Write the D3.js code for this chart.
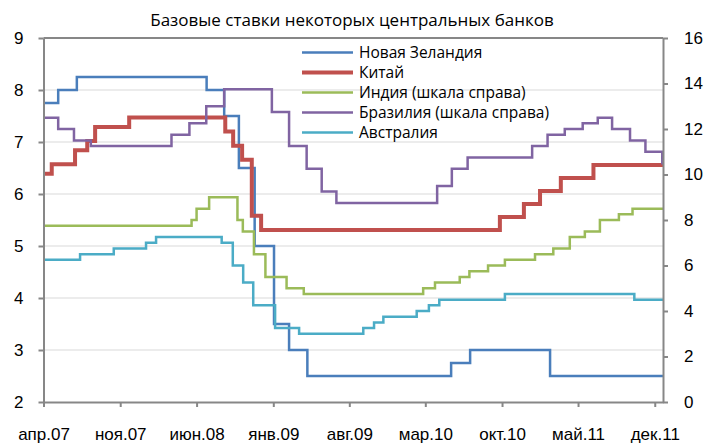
<!DOCTYPE html>
<html>
<head>
<meta charset="utf-8">
<script src="https://cdn.jsdelivr.net/npm/d3@7"></script>
<style>
  body { margin: 0; background: #fff; }
  svg { display: block; font-family: "Open Sans", sans-serif; }
  .axis path, .axis line { stroke: #878787; stroke-width: 2; }
  .axis text { fill: #000; font-size: 17px; }
  .grid line { stroke: #d9d9d9; stroke-width: 1; }
</style>
</head>
<body>
<svg id="chart" width="723" height="443"></svg>
<script>
const title = 'Базовые ставки некоторых центральных банков';

const xTickDates = ['2007-04-01', '2007-11-01', '2008-06-01', '2009-01-01', '2009-08-01',
  '2010-03-01', '2010-10-01', '2011-05-01', '2011-12-01'];
const xTickLabels = ['апр.07', 'ноя.07', 'июн.08', 'янв.09', 'авг.09', 'мар.10', 'окт.10', 'май.11', 'дек.11'];
const leftTicks = [2, 3, 4, 5, 6, 7, 8, 9];
const rightTicks = [0, 2, 4, 6, 8, 10, 12, 14, 16];

const startDate = '2007-04-01';
const endDate = '2011-12-24';

// [дата изменения, ставка]
const newZealand = [
  ['2007-04-01', 7.75], ['2007-05-12', 8.0], ['2007-07-03', 8.25], ['2008-06-29', 8.0],
  ['2008-08-17', 7.5], ['2008-09-27', 6.5], ['2008-11-10', 5.0], ['2009-01-03', 3.5],
  ['2009-02-14', 3.0], ['2009-04-06', 2.5], ['2010-05-12', 2.75], ['2010-07-04', 3.0],
  ['2011-02-12', 2.5]
];
const china = [
  ['2007-04-01', 6.39], ['2007-04-24', 6.57], ['2007-06-28', 6.84], ['2007-08-01', 7.02],
  ['2007-08-23', 7.29], ['2007-11-26', 7.47], ['2008-08-20', 7.20], ['2008-09-11', 6.93],
  ['2008-10-06', 6.66], ['2008-11-02', 5.58], ['2008-11-28', 5.31], ['2010-09-25', 5.56],
  ['2010-12-01', 5.81], ['2011-01-15', 6.06], ['2011-03-14', 6.31], ['2011-06-13', 6.56]
];
const india = [
  ['2007-04-01', 7.75], ['2008-05-18', 8.0], ['2008-06-01', 8.5], ['2008-07-06', 9.0],
  ['2008-09-23', 8.0], ['2008-10-08', 7.5], ['2008-11-08', 6.5], ['2008-12-10', 5.5],
  ['2009-02-07', 5.0], ['2009-03-27', 4.75], ['2010-02-23', 5.0], ['2010-03-28', 5.25],
  ['2010-06-05', 5.5], ['2010-07-02', 5.75], ['2010-08-23', 6.0], ['2010-10-09', 6.25],
  ['2011-01-01', 6.5], ['2011-02-21', 6.75], ['2011-04-08', 7.25], ['2011-05-20', 7.5],
  ['2011-07-01', 8.0], ['2011-08-23', 8.25], ['2011-09-30', 8.5]
];
const brazil = [
  ['2007-04-01', 12.5], ['2007-05-12', 12.0], ['2007-06-25', 11.5], ['2007-08-11', 11.25],
  ['2008-03-23', 11.75], ['2008-05-12', 12.25], ['2008-06-28', 13.0], ['2008-08-17', 13.75],
  ['2008-12-28', 12.75], ['2009-02-14', 11.25], ['2009-04-04', 10.25], ['2009-05-16', 9.25],
  ['2009-06-26', 8.75], ['2010-04-03', 9.5], ['2010-05-14', 10.25], ['2010-06-27', 10.75],
  ['2010-12-24', 11.25], ['2011-02-05', 11.75], ['2011-03-25', 12.0], ['2011-05-14', 12.25],
  ['2011-06-25', 12.5], ['2011-08-04', 12.0], ['2011-09-23', 11.5], ['2011-11-05', 11.0],
  ['2011-12-22', 10.5]
];
const australia = [
  ['2007-04-01', 6.25], ['2007-07-12', 6.5], ['2007-10-14', 6.75], ['2008-01-12', 7.0],
  ['2008-02-09', 7.25], ['2008-08-10', 7.0], ['2008-09-10', 6.0], ['2008-10-09', 5.25],
  ['2008-11-06', 4.25], ['2009-01-06', 3.25], ['2009-03-14', 3.0], ['2009-09-09', 3.25],
  ['2009-10-09', 3.5], ['2009-11-04', 3.75], ['2010-02-05', 4.0], ['2010-03-11', 4.25],
  ['2010-04-09', 4.5], ['2010-10-09', 4.75], ['2011-10-05', 4.5]
];

const series = [
  { name: 'Новая Зеландия', data: newZealand, axis: 'left', color: '#4a7ebb', width: 2.5 },
  { name: 'Китай', data: china, axis: 'left', color: '#c0504d', width: 4 },
  { name: 'Индия (шкала справа)', data: india, axis: 'right', color: '#9bbb59', width: 2.5 },
  { name: 'Бразилия (шкала справа)', data: brazil, axis: 'right', color: '#8064a2', width: 2.5 },
  { name: 'Австралия', data: australia, axis: 'right', color: '#4bacc6', width: 2.5 }
];

const parse = d3.utcParse('%Y-%m-%d');
const margin = { top: 38, right: 60, bottom: 41, left: 43.5 };
const W = 723, H = 443;
const svg = d3.select('#chart');

const x = d3.scaleUtc()
  .domain([parse(startDate), parse(endDate)])
  .range([margin.left, W - margin.right]);
const yL = d3.scaleLinear().domain([2, 9]).range([H - margin.bottom, margin.top]);
const yR = d3.scaleLinear().domain([0, 16]).range([H - margin.bottom, margin.top]);

// сетка
svg.append('g')
  .attr('class', 'grid')
  .selectAll('line')
  .data(leftTicks.slice(1, -1))
  .join('line')
  .attr('x1', margin.left)
  .attr('x2', W - margin.right)
  .attr('y1', d => yL(d))
  .attr('y2', d => yL(d));

// верхняя рамка
svg.append('line')
  .attr('x1', margin.left)
  .attr('x2', W - margin.right)
  .attr('y1', margin.top)
  .attr('y2', margin.top)
  .attr('stroke', '#878787')
  .attr('stroke-width', 2);

const line = (scale) => d3.line()
  .x(d => x(d[0]))
  .y(d => scale(d[1]))
  .curve(d3.curveStepAfter);

series.forEach(s => {
  const pts = s.data.map(d => [parse(d[0]), d[1]]);
  pts.push([parse(endDate), pts[pts.length - 1][1]]);
  svg.append('path')
    .datum(pts)
    .attr('fill', 'none')
    .attr('stroke', s.color)
    .attr('stroke-width', s.width)
    .attr('stroke-linejoin', 'miter')
    .attr('d', line(s.axis === 'left' ? yL : yR));
});

// оси
svg.append('g')
  .attr('class', 'axis')
  .attr('transform', `translate(${margin.left},0)`)
  .call(d3.axisLeft(yL).tickValues(leftTicks).tickFormat(d3.format('d'))
    .tickSize(5).tickSizeOuter(0).tickPadding(15));

svg.append('g')
  .attr('class', 'axis')
  .attr('transform', `translate(${W - margin.right},0)`)
  .call(d3.axisRight(yR).tickValues(rightTicks).tickFormat(d3.format('d'))
    .tickSize(5).tickSizeOuter(0).tickPadding(16));

const gX = svg.append('g')
  .attr('class', 'axis')
  .attr('transform', `translate(0,${H - margin.bottom})`)
  .call(d3.axisBottom(x)
    .tickValues(xTickDates.map(parse))
    .tickFormat((d, i) => xTickLabels[i])
    .tickSize(5)
    .tickSizeOuter(0));
gX.selectAll('text').attr('y', 38).attr('dy', 0);

// легенда
const legend = svg.append('g').attr('transform', 'translate(302,52.5)');
series.forEach((s, i) => {
  const g = legend.append('g').attr('transform', `translate(0,${i * 20})`);
  g.append('line')
    .attr('x1', 0).attr('x2', 51)
    .attr('stroke', s.color)
    .attr('stroke-width', s.width);
  g.append('text')
    .attr('x', 57)
    .attr('dy', '0.35em')
    .attr('font-size', 15.5)
    .text(s.name);
});

svg.append('text')
  .attr('x', 352)
  .attr('y', 26)
  .attr('text-anchor', 'middle')
  .attr('font-size', 17)
  .text(title);
</script>
</body>
</html>
